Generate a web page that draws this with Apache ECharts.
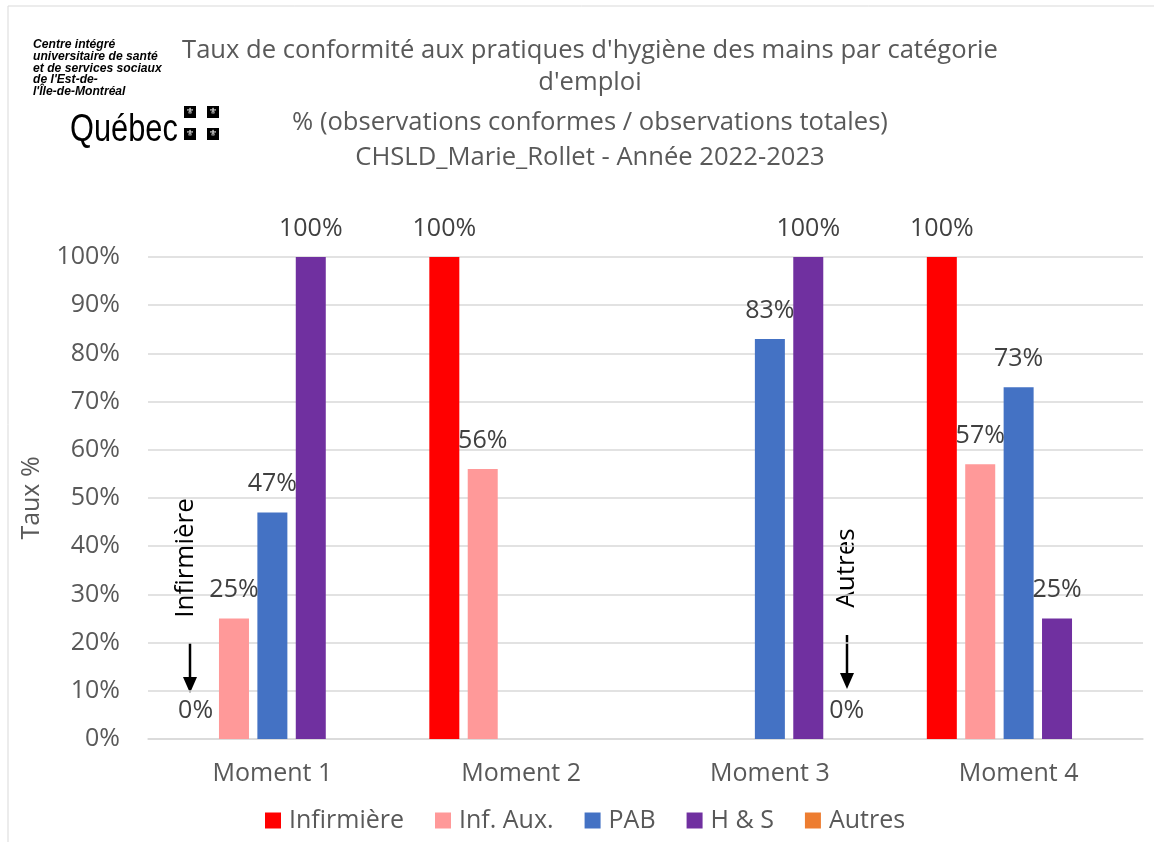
<!DOCTYPE html>
<html>
<head>
<meta charset="utf-8">
<script src="https://cdn.jsdelivr.net/npm/echarts@6/dist/echarts.min.js"></script>
<style>
	html, body { margin: 0; padding: 0; background: #fff; }
	#chart { width: 1154px; height: 842px; }
</style>
</head>
<body>
<div id="chart"></div>
<script>
// Catégories et valeurs (null = pas d'observation)
const moments = ['Moment 1', 'Moment 2', 'Moment 3', 'Moment 4']
const infirmiere = [0, 100, null, 100]
const infAux = [25, 56, null, 57]
const pab = [47, null, 83, 73]
const hs = [100, null, 100, 25]
const autres = [null, null, 0, null]
const yTicks = [0, 10, 20, 30, 40, 50, 60, 70, 80, 90, 100]

const police = '"Open Sans", Lato, sans-serif'
const gris = '#595959'
const taille = 25

function serie(nom, data, couleur) {
	return {
		name: nom,
		type: 'bar',
		data: data,
		barWidth: 30,
		barGap: '28%',
		itemStyle: { color: couleur },
		label: {
			show: true,
			position: 'top',
			distance: 16,
			fontFamily: police,
			fontSize: taille,
			color: '#404040',
			formatter: (p) => (p.value === null || p.value === undefined ? '' : p.value + '%'),
		},
	}
}

const chart = echarts.init(document.getElementById('chart'))

const styleTitre = { fontFamily: police, fontSize: 25.6, fontWeight: 'normal', color: gris, lineHeight: 32 }

chart.setOption({
	animation: false,
	backgroundColor: '#fff',
	title: [
		{
			text: "Taux de conformité aux pratiques d'hygiène des mains par catégorie\nd'emploi",
			left: 585,
			top: 30,
			textAlign: 'center',
			textStyle: styleTitre,
		},
		{
			text: '% (observations conformes / observations totales)',
			left: 585,
			top: 102,
			textAlign: 'center',
			textStyle: styleTitre,
		},
		{
			text: 'CHSLD_Marie_Rollet - Année 2022-2023',
			left: 585,
			top: 137,
			textAlign: 'center',
			textStyle: styleTitre,
		},
	],
	legend: {
		bottom: 4,
		left: 260,
		itemWidth: 16,
		itemHeight: 16,
		itemGap: 31,
		icon: 'rect',
		textStyle: { fontFamily: police, fontSize: taille, color: gris, padding: [0, 0, 0, 3] },
		data: ['Infirmière', 'Inf. Aux.', 'PAB', 'H & S', 'Autres'],
	},
	grid: { left: 148, right: 11, top: 257, bottom: 103 },
	xAxis: {
		type: 'category',
		data: moments,
		axisLine: { lineStyle: { color: '#D9D9D9', width: 1.5 } },
		axisTick: { show: false },
		axisLabel: { fontFamily: police, fontSize: taille, color: gris, margin: 22 },
	},
	yAxis: {
		type: 'value',
		min: yTicks[0],
		max: yTicks[yTicks.length - 1],
		interval: 10,
		name: 'Taux %',
		nameLocation: 'middle',
		nameGap: 104,
		nameTextStyle: { fontFamily: police, fontSize: taille, color: gris },
		axisLine: { show: false },
		axisTick: { show: false },
		axisLabel: { fontFamily: police, fontSize: taille, color: gris, margin: 28, formatter: '{value}%' },
		splitLine: { lineStyle: { color: '#D9D9D9', width: 1.5 } },
	},
	series: [
		serie('Infirmière', infirmiere, '#FF0000'),
		serie('Inf. Aux.', infAux, '#FF9999'),
		serie('PAB', pab, '#4472C4'),
		serie('H & S', hs, '#7030A0'),
		serie('Autres', autres, '#ED7D31'),
	],
	graphic: [
		// cadre du graphique
		{
			type: 'rect',
			shape: { x: 8, y: 6, width: 1200, height: 900 },
			style: { fill: null, stroke: '#D9D9D9', lineWidth: 1 },
			silent: true,
			z: -1,
		},
		// logo CIUSSS
		{
			type: 'text',
			x: 33,
			y: 39,
			scaleX: 0.97,
			style: {
				text: "Centre intégré\nuniversitaire de santé\net de services sociaux\nde l'Est-de-\nl'Île-de-Montréal",
				fontFamily: '"Liberation Sans", Arial, sans-serif',
				fontStyle: 'italic',
				fontWeight: 'bold',
				fontSize: 12.5,
				lineHeight: 11.7,
				verticalAlign: 'top',
				fill: '#000',
			},
		},
		{
			type: 'text',
			x: 70,
			y: 131,
			scaleX: 0.81,
			style: {
				text: 'Québec',
				fontFamily: '"Liberation Sans", Arial, sans-serif',
				fontSize: 38,
				verticalAlign: 'middle',
				fill: '#000',
			},
		},
		...[[184, 106], [207, 106], [184, 128], [207, 128]].map(([x, y]) => ({
			type: 'group',
			x: x,
			y: y,
			children: [
				{ type: 'rect', shape: { x: 0, y: 0, width: 12, height: 12 }, style: { fill: '#000' } },
				{
					type: 'text',
					x: 6,
					y: 6,
					style: { text: '⚜', fontSize: 9, fill: '#fff', align: 'center', verticalAlign: 'middle', fontFamily: 'DejaVu Sans' },
				},
			],
		})),
		// annotations
		{
			type: 'text',
			x: 186,
			y: 558,
			rotation: Math.PI / 2,
			style: { text: 'Infirmière', fontFamily: police, fontSize: 26, fill: '#000', align: 'center', verticalAlign: 'middle' },
		},
		{
			type: 'line',
			shape: { x1: 190, y1: 643, x2: 190, y2: 678 },
			style: { stroke: '#000', lineWidth: 2.5 },
		},
		{
			type: 'polygon',
			shape: { points: [[183, 677], [197, 677], [190, 693]] },
			style: { fill: '#000' },
		},
		{
			type: 'text',
			x: 847,
			y: 568,
			rotation: Math.PI / 2,
			style: { text: 'Autres', fontFamily: police, fontSize: 26, fill: '#000', align: 'center', verticalAlign: 'middle' },
		},
		{
			type: 'line',
			shape: { x1: 847, y1: 635, x2: 847, y2: 674 },
			style: { stroke: '#000', lineWidth: 2.5 },
		},
		{
			type: 'polygon',
			shape: { points: [[840, 673], [854, 673], [847, 689]] },
			style: { fill: '#000' },
		},
	],
})
</script>
</body>
</html>
